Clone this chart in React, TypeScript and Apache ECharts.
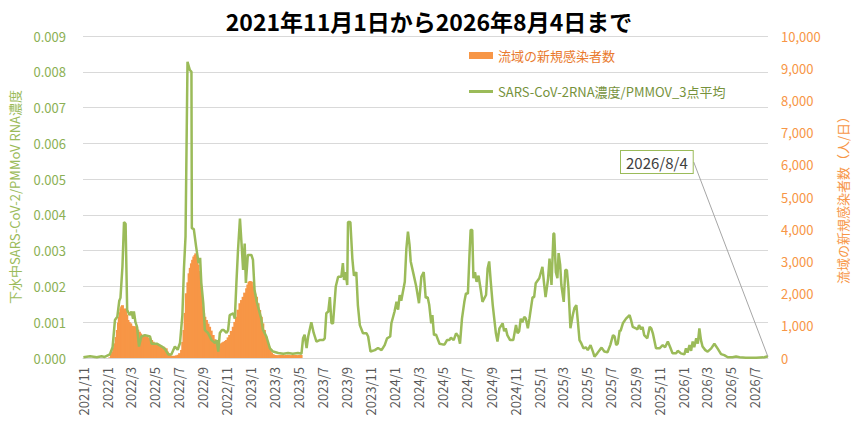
import { useEffect, useRef } from 'react';
import * as echarts from 'echarts';

// 下水中SARS-CoV-2 RNA濃度 / PMMoV（3点平均）
const rna2022: [string, number][] = [
  ['2021-11-02', 0.00002], ['2021-11-19', 0.00005], ['2021-12-06', 0.00002], ['2021-12-18', 0.00005], ['2021-12-26', 0.00003],
  ['2022-01-08', 0.0001], ['2022-01-15', 0.0003], ['2022-01-21', 0.00106], ['2022-01-27', 0.00115], ['2022-02-01', 0.0016],
  ['2022-02-04', 0.00168], ['2022-02-09', 0.00255], ['2022-02-13', 0.0038], ['2022-02-17', 0.00375], ['2022-02-19', 0.00255],
  ['2022-02-21', 0.00134], ['2022-02-27', 0.0012], ['2022-03-04', 0.0013], ['2022-03-08', 0.0011], ['2022-03-10', 0.0013],
  ['2022-03-14', 0.001], ['2022-03-18', 0.00087], ['2022-03-23', 0.00032], ['2022-03-29', 0.0006], ['2022-04-07', 0.00064],
  ['2022-04-20', 0.0006], ['2022-04-24', 0.0004], ['2022-05-07', 0.0004], ['2022-05-20', 0.00032], ['2022-05-28', 0.00025],
  ['2022-06-05', 0.0001], ['2022-06-13', 0.0001], ['2022-06-22', 0.00032], ['2022-06-29', 0.00023], ['2022-07-05', 0.00042],
  ['2022-07-11', 0.0012], ['2022-07-15', 0.0025], ['2022-07-19', 0.0034], ['2022-07-24', 0.00828], ['2022-07-30', 0.00805],
  ['2022-08-03', 0.008], ['2022-08-04', 0.00363], ['2022-08-09', 0.0036], ['2022-08-15', 0.0031], ['2022-08-21', 0.00265],
  ['2022-08-25', 0.0028], ['2022-08-28', 0.0021], ['2022-09-02', 0.00153], ['2022-09-06', 0.00078], ['2022-09-14', 0.0007],
  ['2022-09-23', 0.0005], ['2022-10-02', 0.00042], ['2022-10-06', 0.0005], ['2022-10-10', 0.00018], ['2022-10-14', 0.0007],
  ['2022-10-19', 0.00078], ['2022-10-24', 0.00078], ['2022-10-31', 0.0007], ['2022-11-04', 0.00078], ['2022-11-08', 0.0012],
  ['2022-11-17', 0.00125], ['2022-11-21', 0.0011], ['2022-11-25', 0.0021], ['2022-11-29', 0.003], ['2022-12-04', 0.0039],
  ['2022-12-08', 0.0032], ['2022-12-12', 0.00246], ['2022-12-16', 0.0032], ['2022-12-19', 0.0021], ['2022-12-24', 0.00288],
];

const rna2023: [string, number][] = [
  ['2023-01-02', 0.00288], ['2023-01-06', 0.00274], ['2023-01-10', 0.0019], ['2023-01-15', 0.0016], ['2023-01-19', 0.00143],
  ['2023-01-27', 0.0011], ['2023-01-31', 0.0008], ['2023-02-09', 0.0006], ['2023-02-18', 0.00027], ['2023-02-26', 0.00018],
  ['2023-03-11', 0.00014], ['2023-03-24', 0.00012], ['2023-04-05', 0.00014], ['2023-04-17', 0.00012], ['2023-04-30', 0.00014],
  ['2023-05-09', 0.00012], ['2023-05-13', 0.00055], ['2023-05-17', 0.00065], ['2023-05-22', 0.00028], ['2023-05-26', 0.0006],
  ['2023-06-03', 0.001], ['2023-06-09', 0.0007], ['2023-06-16', 0.00046], ['2023-06-24', 0.0005], ['2023-07-03', 0.0005],
  ['2023-07-07', 0.00055], ['2023-07-11', 0.00125], ['2023-07-16', 0.0013], ['2023-07-20', 0.0017], ['2023-07-24', 0.00097],
  ['2023-07-28', 0.00097], ['2023-08-04', 0.002], ['2023-08-10', 0.00227], ['2023-08-18', 0.00227], ['2023-08-22', 0.00265],
  ['2023-08-25', 0.00218], ['2023-08-29', 0.0024], ['2023-09-02', 0.00204], ['2023-09-04', 0.0038], ['2023-09-10', 0.0038],
  ['2023-09-15', 0.00278], ['2023-09-19', 0.0023], ['2023-09-25', 0.0024], ['2023-09-29', 0.00148], ['2023-10-04', 0.00092],
  ['2023-10-12', 0.00069], ['2023-10-21', 0.00069], ['2023-10-25', 0.0006], ['2023-10-31', 0.00018], ['2023-11-11', 0.00022],
  ['2023-11-19', 0.00028], ['2023-11-28', 0.00022], ['2023-12-06', 0.00036], ['2023-12-12', 0.00055], ['2023-12-20', 0.0006],
  ['2023-12-23', 0.00097], ['2023-12-31', 0.0013],
];

const rna2024: [string, number][] = [
  ['2024-01-05', 0.00157], ['2024-01-09', 0.00135], ['2024-01-13', 0.00176], ['2024-01-17', 0.0016], ['2024-01-26', 0.00213],
  ['2024-01-30', 0.00306], ['2024-02-03', 0.00353], ['2024-02-07', 0.00316], ['2024-02-10', 0.0027], ['2024-02-16', 0.0024],
  ['2024-02-24', 0.002], ['2024-03-02', 0.00153], ['2024-03-08', 0.00227], ['2024-03-14', 0.0024], ['2024-03-19', 0.00168],
  ['2024-03-24', 0.0017], ['2024-03-28', 0.00148], ['2024-04-02', 0.00097], ['2024-04-05', 0.0012], ['2024-04-09', 0.00064],
  ['2024-04-14', 0.00066], ['2024-04-23', 0.0004], ['2024-05-01', 0.00038], ['2024-05-06', 0.00038], ['2024-05-12', 0.0005],
  ['2024-05-18', 0.0005], ['2024-05-22', 0.00057], ['2024-05-29', 0.0005], ['2024-06-04', 0.00069], ['2024-06-10', 0.0006],
  ['2024-06-14', 0.0004], ['2024-06-19', 0.0011], ['2024-06-25', 0.00157], ['2024-06-29', 0.0018], ['2024-07-04', 0.0018],
  ['2024-07-08', 0.00288], ['2024-07-11', 0.00358], ['2024-07-15', 0.00358], ['2024-07-18', 0.00223], ['2024-07-22', 0.0024],
  ['2024-07-26', 0.00213], ['2024-07-31', 0.0023], ['2024-08-05', 0.00195], ['2024-08-10', 0.00157], ['2024-08-19', 0.00176],
  ['2024-08-23', 0.0025], ['2024-08-27', 0.0027], ['2024-08-31', 0.00213], ['2024-09-05', 0.00148], ['2024-09-13', 0.00069],
  ['2024-09-17', 0.00046], ['2024-09-22', 0.00083], ['2024-09-30', 0.00097], ['2024-10-04', 0.00075], ['2024-10-08', 0.00083],
  ['2024-10-12', 0.00064], ['2024-10-19', 0.0005], ['2024-10-27', 0.0005], ['2024-11-03', 0.00092], ['2024-11-07', 0.00069],
  ['2024-11-11', 0.00075], ['2024-11-15', 0.0011], ['2024-11-19', 0.001], ['2024-11-24', 0.00115], ['2024-11-28', 0.0011],
  ['2024-12-03', 0.00083], ['2024-12-07', 0.0011], ['2024-12-15', 0.0017], ['2024-12-19', 0.0017], ['2024-12-23', 0.00209],
];

const rna2025: [string, number][] = [
  ['2025-01-01', 0.00223], ['2025-01-09', 0.00255], ['2025-01-13', 0.0021], ['2025-01-17', 0.0017], ['2025-01-23', 0.00218],
  ['2025-01-27', 0.00278], ['2025-02-01', 0.00204], ['2025-02-06', 0.00348], ['2025-02-08', 0.00348], ['2025-02-12', 0.0024],
  ['2025-02-16', 0.00223], ['2025-02-19', 0.00293], ['2025-02-23', 0.0026], ['2025-02-26', 0.00204], ['2025-03-04', 0.00157],
  ['2025-03-08', 0.00246], ['2025-03-12', 0.00246], ['2025-03-16', 0.00195], ['2025-03-21', 0.00083], ['2025-03-27', 0.0012],
  ['2025-03-31', 0.00139], ['2025-04-05', 0.00148], ['2025-04-09', 0.001], ['2025-04-13', 0.0005], ['2025-04-18', 0.0004],
  ['2025-04-23', 0.00027], ['2025-04-29', 0.0003], ['2025-05-04', 0.00022], ['2025-05-11', 0.00036], ['2025-05-17', 0.00018],
  ['2025-05-21', 0.00004], ['2025-05-28', 0.00013], ['2025-06-03', 0.00022], ['2025-06-08', 0.00029], ['2025-06-15', 0.00018],
  ['2025-06-23', 0.00016], ['2025-06-30', 0.00036], ['2025-07-07', 0.00064], ['2025-07-11', 0.0006], ['2025-07-15', 0.00036],
  ['2025-07-19', 0.0004], ['2025-07-24', 0.00078], ['2025-07-26', 0.00075], ['2025-08-01', 0.00097], ['2025-08-09', 0.0011],
  ['2025-08-18', 0.0012], ['2025-08-22', 0.00105], ['2025-08-26', 0.00087], ['2025-09-03', 0.00083], ['2025-09-07', 0.0008],
  ['2025-09-11', 0.00092], ['2025-09-16', 0.0008], ['2025-09-20', 0.00087], ['2025-09-24', 0.00064], ['2025-10-02', 0.00055],
  ['2025-10-08', 0.00087], ['2025-10-12', 0.00083], ['2025-10-16', 0.00069], ['2025-10-24', 0.00027], ['2025-11-02', 0.00027],
  ['2025-11-10', 0.00036], ['2025-11-16', 0.0003], ['2025-11-23', 0.00046], ['2025-11-29', 0.0003], ['2025-12-05', 0.00013],
  ['2025-12-14', 0.00013], ['2025-12-18', 0.0002], ['2025-12-26', 0.00013],
];

const rna2026: [string, number][] = [
  ['2026-01-04', 0.0001], ['2026-01-08', 0.00027], ['2026-01-12', 0.00015], ['2026-01-17', 0.00036], ['2026-01-21', 0.0002],
  ['2026-01-25', 0.00046], ['2026-01-29', 0.0003], ['2026-02-03', 0.00055], ['2026-02-07', 0.0004], ['2026-02-11', 0.00083],
  ['2026-02-15', 0.0005], ['2026-02-19', 0.00032], ['2026-02-26', 0.00022], ['2026-03-04', 0.00018], ['2026-03-13', 0.00027],
  ['2026-03-21', 0.0004], ['2026-03-29', 0.00027], ['2026-04-07', 0.00011], ['2026-04-15', 0.00008], ['2026-04-24', 0.00002],
  ['2026-05-06', 0.00002], ['2026-05-15', 0.00004], ['2026-05-24', 0.00002], ['2026-06-09', 0.00001], ['2026-07-05', 0.00001],
  ['2026-07-26', 0.00002], ['2026-08-01', 0.00004], ['2026-08-04', 0.00003],
];

// 流域の新規感染者数（人/日）
const newCases: [string, number][] = [
  ['2022-01-08', 20], ['2022-01-12', 120], ['2022-01-15', 196], ['2022-01-18', 320], ['2022-01-21', 455], ['2022-01-24', 650],
  ['2022-01-27', 870], ['2022-01-30', 1100], ['2022-02-01', 1280], ['2022-02-03', 1420], ['2022-02-05', 1540], ['2022-02-07', 1600],
  ['2022-02-09', 1640], ['2022-02-11', 1520], ['2022-02-13', 1440], ['2022-02-15', 1500], ['2022-02-17', 1540], ['2022-02-20', 1350],
  ['2022-02-23', 1180], ['2022-02-26', 1120], ['2022-03-02', 1075], ['2022-03-05', 1000], ['2022-03-08', 970], ['2022-03-11', 990],
  ['2022-03-14', 950], ['2022-03-17', 970], ['2022-03-20', 880], ['2022-03-24', 815], ['2022-03-27', 760], ['2022-03-30', 715],
  ['2022-04-02', 700], ['2022-04-05', 715], ['2022-04-08', 680], ['2022-04-11', 660], ['2022-04-15', 640], ['2022-04-20', 610],
  ['2022-04-24', 560], ['2022-04-28', 505], ['2022-05-02', 460], ['2022-05-07', 405], ['2022-05-11', 380], ['2022-05-15', 350],
  ['2022-05-19', 340], ['2022-05-24', 350], ['2022-05-27', 320], ['2022-05-31', 300], ['2022-06-03', 200], ['2022-06-06', 145],
  ['2022-06-09', 100], ['2022-06-13', 70], ['2022-06-17', 65], ['2022-06-22', 70], ['2022-06-26', 80], ['2022-06-30', 100],
  ['2022-07-04', 150], ['2022-07-09', 250], ['2022-07-12', 500], ['2022-07-15', 870], ['2022-07-18', 1400], ['2022-07-21', 2010],
  ['2022-07-25', 2350], ['2022-07-28', 2630], ['2022-07-31', 2800], ['2022-08-03', 2940], ['2022-08-06', 3050], ['2022-08-09', 3150],
  ['2022-08-12', 3200], ['2022-08-14', 3250], ['2022-08-17', 3100], ['2022-08-20', 2900], ['2022-08-22', 2700], ['2022-08-24', 2525],
  ['2022-08-26', 2200], ['2022-08-28', 1900], ['2022-08-31', 1600], ['2022-09-03', 1390], ['2022-09-06', 1280], ['2022-09-10', 1180],
  ['2022-09-14', 1070], ['2022-09-18', 970], ['2022-09-22', 850], ['2022-09-27', 715], ['2022-10-01', 580], ['2022-10-05', 455],
  ['2022-10-09', 420], ['2022-10-12', 405], ['2022-10-15', 430], ['2022-10-18', 455], ['2022-10-21', 480], ['2022-10-24', 505],
  ['2022-10-28', 530], ['2022-10-31', 560], ['2022-11-04', 640], ['2022-11-08', 715], ['2022-11-12', 840], ['2022-11-17', 970],
  ['2022-11-21', 1120], ['2022-11-25', 1280], ['2022-11-29', 1500], ['2022-12-04', 1700], ['2022-12-08', 1800], ['2022-12-12', 1900],
  ['2022-12-16', 2030], ['2022-12-21', 2165], ['2022-12-24', 2280], ['2022-12-27', 2370], ['2022-12-30', 2390], ['2023-01-02', 2370],
  ['2023-01-05', 2250], ['2023-01-08', 2110], ['2023-01-11', 2000], ['2023-01-15', 1900], ['2023-01-19', 1700], ['2023-01-23', 1490],
  ['2023-01-27', 1280], ['2023-01-31', 1075], ['2023-02-04', 870], ['2023-02-09', 660], ['2023-02-12', 500], ['2023-02-16', 350],
  ['2023-02-19', 250], ['2023-02-22', 165], ['2023-02-26', 120], ['2023-03-03', 95], ['2023-03-09', 90], ['2023-03-15', 95],
  ['2023-03-21', 100], ['2023-03-27', 90], ['2023-04-01', 95], ['2023-04-06', 100], ['2023-04-12', 90], ['2023-04-18', 95],
  ['2023-04-24', 95], ['2023-04-29', 90], ['2023-05-04', 95], ['2023-05-08', 95],
];

// x軸ラベル（2か月ごと）
const monthTicks: string[] = [
  '2021-11-01', '2022-01-01', '2022-03-01', '2022-05-01', '2022-07-01', '2022-09-01', '2022-11-01',
  '2023-01-01', '2023-03-01', '2023-05-01', '2023-07-01', '2023-09-01', '2023-11-01',
  '2024-01-01', '2024-03-01', '2024-05-01', '2024-07-01', '2024-09-01', '2024-11-01',
  '2025-01-01', '2025-03-01', '2025-05-01', '2025-07-01', '2025-09-01', '2025-11-01',
  '2026-01-01', '2026-03-01', '2026-05-01', '2026-07-01',
];

const startDate = '2021-11-01';
const endDate = '2026-08-04';
const calloutText = '2026/8/4';

const GREEN = '#9BBB59';
const ORANGE = '#F79646';
const FONT = '"Noto Sans CJK JP", "Noto Sans", sans-serif';

const ts = (s: string) => echarts.time.parse(s).getTime();

export default function App() {
  const chartRef = useRef<HTMLDivElement>(null);

  useEffect(() => {
    if (!chartRef.current) return;
    const chart = echarts.init(chartRef.current, undefined, { renderer: 'svg' });

    const rnaAll = [...rna2022, ...rna2023, ...rna2024, ...rna2025, ...rna2026];
    const lineData = rnaAll.map(([d, v], i) =>
      i === rnaAll.length - 1
        ? {
            value: [ts(d), v],
            symbol: 'circle',
            symbolSize: 1,
            itemStyle: { color: 'rgba(0,0,0,0)' },
            label: {
              show: true,
              formatter: calloutText,
              color: '#404040',
              fontSize: 15,
              fontFamily: FONT,
              backgroundColor: '#fff',
              borderColor: GREEN,
              borderWidth: 1,
              padding: [4, 5, 3, 5],
              align: 'left',
              verticalAlign: 'middle',
            },
            labelLine: { show: true, lineStyle: { color: '#A6A6A6', width: 1 } },
          }
        : [ts(d), v]
    );
    const barData = newCases.map(([d, v]) => [ts(d), v]);

    const option: echarts.EChartsOption = {
      animation: false,
      backgroundColor: '#fff',
      textStyle: { fontFamily: FONT },
      title: {
        text: '2021年11月1日から2026年8月4日まで',
        left: 424,
        top: 4,
        textAlign: 'center',
        textStyle: { fontSize: 23, fontWeight: 'bold', color: '#000', fontFamily: FONT },
      },
      legend: {
        orient: 'vertical',
        left: 464,
        top: 44,
        itemWidth: 24,
        itemHeight: 7,
        itemGap: 23,
        textStyle: { fontSize: 13, fontFamily: FONT },
        data: [
          { name: '流域の新規感染者数', icon: 'rect', textStyle: { color: '#E97A2E' } },
          {
            name: 'SARS-CoV-2RNA濃度/PMMOV_3点平均',
            icon: 'path://M0,0h24v3h-24z',
            itemStyle: { color: GREEN },
            textStyle: { color: '#76923C' },
          },
        ],
      },
      grid: { left: 83, right: 90, top: 36, bottom: 81 },
      xAxis: {
        type: 'value',
        min: ts(startDate),
        max: ts(endDate),
        axisLine: { lineStyle: { color: '#D9D9D9' } },
        axisTick: { show: false },
        splitLine: { show: false },
        axisLabel: {
          customValues: monthTicks.map(ts),
          rotate: 90,
          margin: 9,
          color: '#595959',
          fontSize: 13,
          fontFamily: FONT,
          showMinLabel: true,
          showMaxLabel: true,
          formatter: (v: number) => {
            const d = new Date(v);
            return d.getFullYear() + '/' + (d.getMonth() + 1);
          },
        },
      } as any,
      yAxis: [
        {
          type: 'value',
          min: 0,
          max: 0.009,
          interval: 0.001,
          name: '下水中SARS-CoV-2/PMMoV RNA濃度',
          nameLocation: 'middle',
          nameRotate: 90,
          nameGap: 62,
          nameTextStyle: { color: GREEN, fontSize: 13, fontFamily: FONT },
          axisLine: { show: false },
          axisTick: { show: false },
          axisLabel: {
            color: '#8CB054',
            fontSize: 13,
            margin: 17,
            fontFamily: FONT,
            formatter: (v: number) => v.toFixed(3),
          },
          splitLine: { lineStyle: { color: '#D9D9D9' } },
        },
        {
          type: 'value',
          position: 'right',
          min: 0,
          max: 10000,
          interval: 1000,
          name: '流域の新規感染者数（人/日）',
          nameLocation: 'middle',
          nameRotate: 90,
          nameGap: 68,
          nameTextStyle: { color: ORANGE, fontSize: 13, fontFamily: FONT },
          axisLine: { show: false },
          axisTick: { show: false },
          axisLabel: {
            color: ORANGE,
            fontSize: 13,
            margin: 13,
            fontFamily: FONT,
            formatter: (v: number) => v.toLocaleString('en-US'),
          },
          splitLine: { show: false },
        },
      ],
      series: [
        {
          name: '流域の新規感染者数',
          type: 'bar',
          yAxisIndex: 1,
          barWidth: 3,
          itemStyle: { color: ORANGE },
          data: barData,
          z: 1,
        },
        {
          name: 'SARS-CoV-2RNA濃度/PMMOV_3点平均',
          type: 'line',
          yAxisIndex: 0,
          symbol: 'none',
          lineStyle: { color: GREEN, width: 2.5 },
          itemStyle: { color: GREEN },
          labelLayout: { x: 621, y: 162 },
          data: lineData as any,
          z: 3,
        },
      ],
    };

    chart.setOption(option);

    return () => {
      chart.dispose();
    };
  }, []);

  return <div ref={chartRef} style={{ position: 'absolute', left: 0, top: 0, width: 858, height: 439 }} />;
}
